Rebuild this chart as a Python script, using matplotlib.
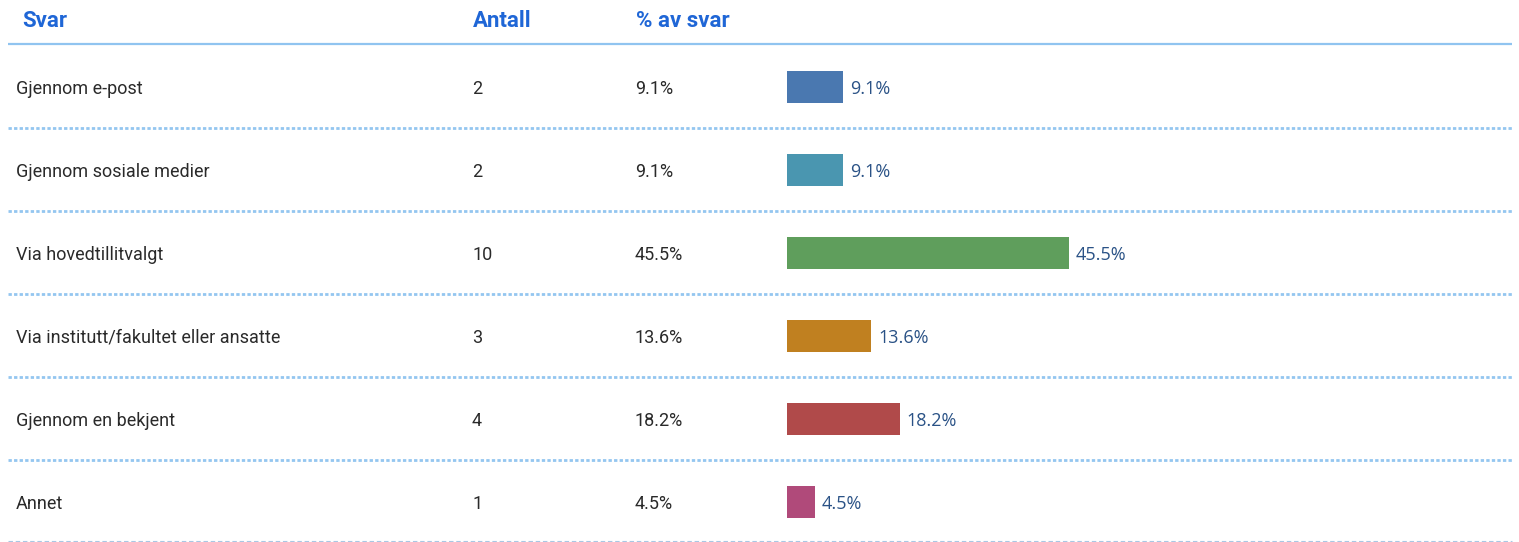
import matplotlib
matplotlib.use("Agg")
import matplotlib.pyplot as plt

svar = ["Gjennom e-post", "Gjennom sosiale medier", "Via hovedtillitvalgt",
        "Via institutt/fakultet eller ansatte", "Gjennom en bekjent", "Annet"]
antall = [2, 2, 10, 3, 4, 1]
prosent = [9.1, 9.1, 45.5, 13.6, 18.2, 4.5]
headers = ["Svar", "Antall", "% av svar"]
colors = ["#4a78b0", "#4a96b0", "#5f9e5c", "#c08020", "#b04a4a", "#b04a7a"]

W, H = 1519, 542
fig = plt.figure(figsize=(W / 100, H / 100), dpi=100)
ax = fig.add_axes([0, 0, 1, 1])
# x in pixels for the table layout, y in row units (row i centred at i)
ax.set_xlim(0, W)
ax.set_ylim(5.482, -1.048)
ax.axis("off")

hdr_col = "#1f66d6"
txt_col = "#2a2a2a"
for x, h in zip([22, 473, 636], headers):
    ax.text(x, -0.82, h, fontsize=16, fontweight="bold", color=hdr_col,
            family="Roboto", va="center_baseline")
ax.plot([8, 1512], [-0.518, -0.518], color="#90c4f0", lw=1.6, solid_capstyle="butt")

for i, (s, a, p) in enumerate(zip(svar, antall, prosent)):
    ax.text(16, i, s, fontsize=13, color=txt_col, family="Roboto",
            va="center_baseline")
    ax.text(472, i, str(a), fontsize=13, color=txt_col, family="Roboto",
            va="center_baseline")
    ax.text(635, i, f"{p}%", fontsize=13, color=txt_col, family="Roboto",
            va="center_baseline")
    if i < len(svar) - 1:
        ax.plot([8, 1512], [i + 0.49, i + 0.49], color="#94c6f0", lw=2.0,
                linestyle=(0, (1.2, 0.8)))
ax.plot([8, 1512], [5.47, 5.47], color="#a8c8e4", lw=0.8,
        linestyle=(0, (4, 2.5)))

# bars on a twin x axis measured in percent
bx = ax.twiny()
scale = 6.2  # px per percent
bx.set_xlim(-787 / scale, (W - 787) / scale)
bx.axis("off")
bx.barh(range(len(prosent)), prosent, height=0.39, color=colors)
for i, p in enumerate(prosent):
    bx.text(p + 7 / scale, i, f"{p}%", fontsize=13, color="#2a5286",
            family="Open Sans", va="center_baseline")

fig.savefig("out.png", dpi=100)
